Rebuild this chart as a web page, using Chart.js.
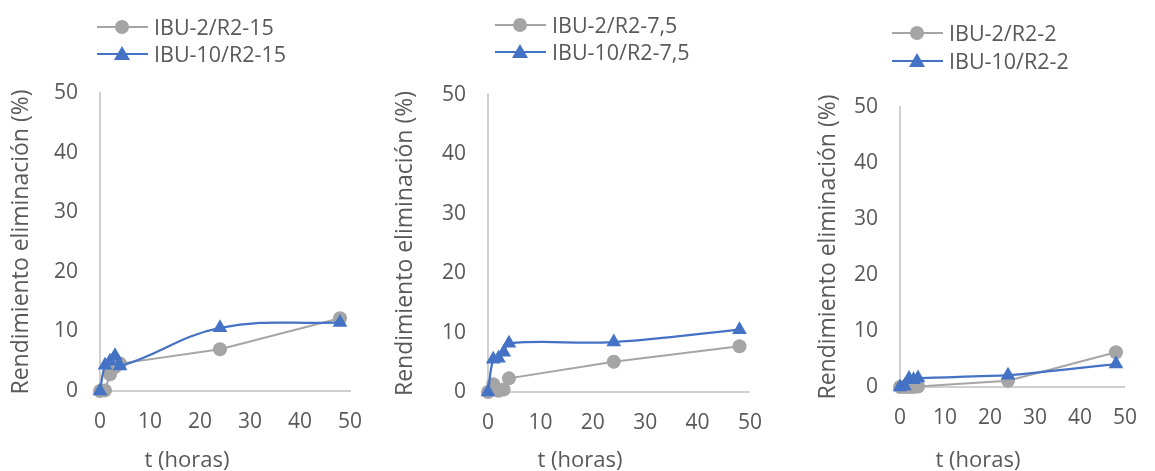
<!DOCTYPE html>
<html>
<head>
<meta charset="utf-8">
<script src="https://cdn.jsdelivr.net/npm/chart.js@4"></script>
<style>
  body { margin: 0; background: #fff; width: 1155px; height: 471px; position: relative; overflow: hidden; font-family: 'Open Sans', sans-serif; color: #595959; }
  .panel { position: absolute; top: 0; height: 471px; }
  .leg { position: absolute; height: 26px; font-size: 21.5px; line-height: 26px; white-space: nowrap; }
  .leg .ln { position: absolute; left: 0; top: 12px; width: 51px; height: 2px; }
  .leg .dot { position: absolute; left: 18px; top: 6px; width: 14px; height: 14px; border-radius: 50%; background: #a5a5a5; }
  .leg .tri { position: absolute; left: 17px; top: 5px; width: 0; height: 0; border-left: 8px solid transparent; border-right: 8px solid transparent; border-bottom: 14px solid #4472c4; }
  .leg span { position: absolute; left: 57px; top: 0; }
  .xt { position: absolute; font-size: 22px; line-height: 26px; white-space: nowrap; transform: translateX(-50%); }
</style>
</head>
<body>
<script>
/* <><><> data <><><> */
let hours = [0, 1, 2, 3, 4, 24, 48]
let grayR15 = [0, 0.1, 2.8, 4.0, 4.6, 7.0, 12.2]
let blueR15 = [0, 4.3, 5.0, 5.9, 4.2, 10.6, 11.5]
let grayR75 = [0, 1.3, 0.2, 0.4, 2.3, 5.1, 7.7]
let blueR75 = [0, 5.5, 5.7, 6.7, 8.2, 8.4, 10.5]
let grayR2 = [0, 0, 0, 0, 0.1, 1.1, 6.2]
let blueR2 = [0, 0.2, 1.5, 1.3, 1.6, 2.1, 4.1]
let xTicks = [0, 10, 20, 30, 40, 50]
let yTicks = [0, 10, 20, 30, 40, 50]
let seriesNames = [
  ['IBU-2/R2-15', 'IBU-10/R2-15'],
  ['IBU-2/R2-7,5', 'IBU-10/R2-7,5'],
  ['IBU-2/R2-2', 'IBU-10/R2-2']
]
let xTitle = 't (horas)'
let yTitle = 'Rendimiento eliminación (%)'

let gray = '#a5a5a5'
let blue = '#4472c4'
let textColor = '#595959'
let axisColor = '#d0d0d0'

/* <><><> panel layout <><><> */
let panels = [
  { left: 0, width: 390, plotLeft: 100, plotRight: 350, top: 93, bottom: 391, yTitlePad: 8, xTitleX: 187, legX: 97, legY: [14, 41], data: [grayR15, blueR15], smooth: 0.4 },
  { left: 390, width: 390, plotLeft: 488, plotRight: 767, top: 95, bottom: 392, yTitlePad: 2, xTitleX: 580, legX: 495, legY: [12, 39], data: [grayR75, blueR75], smooth: 0.4 },
  { left: 780, width: 375, plotLeft: 900, plotRight: 1139, top: 107, bottom: 387, yTitlePad: 35, xTitleX: 978, legX: 892, legY: [20, 48], data: [grayR2, blueR2], smooth: 0.2 }
]

function points(values) {
  return hours.map((h, i) => ({ x: h, y: values[i] }))
}

function addLegend(p, names) {
  let rows = [
    { color: gray, mark: 'dot', name: names[0] },
    { color: blue, mark: 'tri', name: names[1] }
  ]
  rows.forEach((r, i) => {
    let el = document.createElement('div')
    el.className = 'leg'
    el.style.left = p.legX + 'px'
    el.style.top = p.legY[i] + 'px'
    el.innerHTML = `<div class="ln" style="background:${r.color}"></div><div class="${r.mark}"></div><span>${r.name}</span>`
    document.body.appendChild(el)
  })
  let xt = document.createElement('div')
  xt.className = 'xt'
  xt.style.left = p.xTitleX + 'px'
  xt.style.top = '445px'
  xt.textContent = xTitle
  document.body.appendChild(xt)
}

function drawPanel(p, names) {
  let wrap = document.createElement('div')
  wrap.className = 'panel'
  wrap.style.left = p.left + 'px'
  wrap.style.width = p.width + 'px'
  let canvas = document.createElement('canvas')
  wrap.appendChild(canvas)
  document.body.appendChild(wrap)

  let yWidth = p.plotLeft - p.left
  let xHeight = 50

  new Chart(canvas, {
    type: 'line',
    data: {
      datasets: [
        {
          label: names[0],
          data: points(p.data[0]),
          borderColor: gray,
          backgroundColor: gray,
          borderWidth: 2,
          pointStyle: 'circle',
          pointRadius: 7,
          pointBorderWidth: 0,
          tension: 0,
          clip: false,
          order: 2
        },
        {
          label: names[1],
          data: points(p.data[1]),
          borderColor: blue,
          backgroundColor: blue,
          borderWidth: 2.25,
          pointStyle: 'triangle',
          pointRadius: 8.5,
          pointBorderWidth: 0,
          tension: p.smooth,
          clip: false,
          order: 1
        }
      ]
    },
    options: {
      responsive: true,
      maintainAspectRatio: false,
      animation: false,
      layout: {
        padding: { left: 0, top: p.top, right: p.left + p.width - p.plotRight, bottom: 471 - p.bottom - xHeight }
      },
      plugins: { legend: { display: false }, tooltip: { enabled: false } },
      scales: {
        x: {
          type: 'linear',
          min: 0,
          max: 50,
          afterBuildTicks: (s) => { s.ticks = xTicks.map(v => ({ value: v })) },
          afterFit: (s) => { s.height = xHeight },
          grid: { display: false, drawTicks: false },
          border: { display: true, color: axisColor, width: 2 },
          ticks: { color: textColor, padding: 18, maxRotation: 0, font: { family: 'Open Sans', size: 21 } },
        },
        y: {
          type: 'linear',
          min: 0,
          max: 50,
          afterBuildTicks: (s) => { s.ticks = yTicks.map(v => ({ value: v })) },
          afterFit: (s) => { s.width = yWidth },
          grid: { display: false, drawTicks: false },
          border: { display: true, color: axisColor, width: 2 },
          ticks: { color: textColor, padding: 22, font: { family: 'Open Sans', size: 21 } },
          title: {
            display: true,
            text: yTitle,
            color: textColor,
            padding: { top: p.yTitlePad, bottom: 0 },
            font: { family: 'Open Sans', size: 23 }
          }
        }
      }
    }
  })
}

panels.forEach((p, i) => {
  drawPanel(p, seriesNames[i])
  addLegend(p, seriesNames[i])
})
</script>
</body>
</html>
